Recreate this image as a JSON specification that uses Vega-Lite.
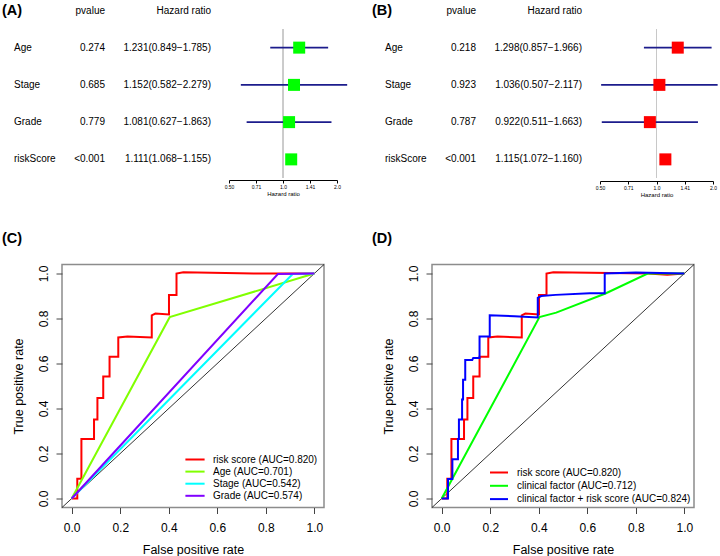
{
  "$schema": "https://vega.github.io/schema/vega-lite/v6.json",
  "padding": {"left": 2, "top": 2, "right": 2, "bottom": 2},
  "config": {
    "view": {"stroke": null},
    "font": "Liberation Sans",
    "title": {"font": "Liberation Sans", "color": "black"},
    "text": {"font": "Liberation Sans", "color": "black"}
  },
  "datasets": {
    "forestA": [
      {"variable": "Age", "pvalue": "0.274", "hrText": "1.231(0.849\u22121.785)", "hr": 1.231, "lower": 0.849, "upper": 1.785},
      {"variable": "Stage", "pvalue": "0.685", "hrText": "1.152(0.582\u22122.279)", "hr": 1.152, "lower": 0.582, "upper": 2.279},
      {"variable": "Grade", "pvalue": "0.779", "hrText": "1.081(0.627\u22121.863)", "hr": 1.081, "lower": 0.627, "upper": 1.863},
      {"variable": "riskScore", "pvalue": "<0.001", "hrText": "1.111(1.068\u22121.155)", "hr": 1.111, "lower": 1.068, "upper": 1.155}
    ],
    "forestB": [
      {"variable": "Age", "pvalue": "0.218", "hrText": "1.298(0.857\u22121.966)", "hr": 1.298, "lower": 0.857, "upper": 1.966},
      {"variable": "Stage", "pvalue": "0.923", "hrText": "1.036(0.507\u22122.117)", "hr": 1.036, "lower": 0.507, "upper": 2.117},
      {"variable": "Grade", "pvalue": "0.787", "hrText": "0.922(0.511\u22121.663)", "hr": 0.922, "lower": 0.511, "upper": 1.663},
      {"variable": "riskScore", "pvalue": "<0.001", "hrText": "1.115(1.072\u22121.160)", "hr": 1.115, "lower": 1.072, "upper": 1.16}
    ],
    "diag": [
      {"x": -0.04, "y": -0.04},
      {"x": 1.04, "y": 1.04}
    ],
    "rocC": [
      {"curve": "risk score (AUC=0.820)", "i": 0, "fpr": 0, "tpr": 0},
      {"curve": "risk score (AUC=0.820)", "i": 1, "fpr": 0.023, "tpr": 0},
      {"curve": "risk score (AUC=0.820)", "i": 2, "fpr": 0.023, "tpr": 0.088},
      {"curve": "risk score (AUC=0.820)", "i": 3, "fpr": 0.04, "tpr": 0.088},
      {"curve": "risk score (AUC=0.820)", "i": 4, "fpr": 0.04, "tpr": 0.265},
      {"curve": "risk score (AUC=0.820)", "i": 5, "fpr": 0.092, "tpr": 0.265},
      {"curve": "risk score (AUC=0.820)", "i": 6, "fpr": 0.092, "tpr": 0.351},
      {"curve": "risk score (AUC=0.820)", "i": 7, "fpr": 0.106, "tpr": 0.351},
      {"curve": "risk score (AUC=0.820)", "i": 8, "fpr": 0.106, "tpr": 0.447},
      {"curve": "risk score (AUC=0.820)", "i": 9, "fpr": 0.13, "tpr": 0.447},
      {"curve": "risk score (AUC=0.820)", "i": 10, "fpr": 0.13, "tpr": 0.542},
      {"curve": "risk score (AUC=0.820)", "i": 11, "fpr": 0.156, "tpr": 0.542},
      {"curve": "risk score (AUC=0.820)", "i": 12, "fpr": 0.156, "tpr": 0.63},
      {"curve": "risk score (AUC=0.820)", "i": 13, "fpr": 0.192, "tpr": 0.63},
      {"curve": "risk score (AUC=0.820)", "i": 14, "fpr": 0.192, "tpr": 0.716},
      {"curve": "risk score (AUC=0.820)", "i": 15, "fpr": 0.23, "tpr": 0.72},
      {"curve": "risk score (AUC=0.820)", "i": 16, "fpr": 0.33, "tpr": 0.716},
      {"curve": "risk score (AUC=0.820)", "i": 17, "fpr": 0.33, "tpr": 0.814},
      {"curve": "risk score (AUC=0.820)", "i": 18, "fpr": 0.345, "tpr": 0.822},
      {"curve": "risk score (AUC=0.820)", "i": 19, "fpr": 0.401, "tpr": 0.818},
      {"curve": "risk score (AUC=0.820)", "i": 20, "fpr": 0.401, "tpr": 0.905},
      {"curve": "risk score (AUC=0.820)", "i": 21, "fpr": 0.432, "tpr": 0.905},
      {"curve": "risk score (AUC=0.820)", "i": 22, "fpr": 0.432, "tpr": 1.0},
      {"curve": "risk score (AUC=0.820)", "i": 23, "fpr": 0.46, "tpr": 1.006},
      {"curve": "risk score (AUC=0.820)", "i": 24, "fpr": 0.75, "tpr": 1.0},
      {"curve": "risk score (AUC=0.820)", "i": 25, "fpr": 1.0, "tpr": 1.0},
      {"curve": "Age (AUC=0.701)", "i": 0, "fpr": 0, "tpr": 0},
      {"curve": "Age (AUC=0.701)", "i": 1, "fpr": 0.404, "tpr": 0.806},
      {"curve": "Age (AUC=0.701)", "i": 2, "fpr": 1.0, "tpr": 1.0},
      {"curve": "Stage (AUC=0.542)", "i": 0, "fpr": 0, "tpr": 0},
      {"curve": "Stage (AUC=0.542)", "i": 1, "fpr": 0.911, "tpr": 0.998},
      {"curve": "Stage (AUC=0.542)", "i": 2, "fpr": 1.0, "tpr": 1.0},
      {"curve": "Grade (AUC=0.574)", "i": 0, "fpr": 0, "tpr": 0},
      {"curve": "Grade (AUC=0.574)", "i": 1, "fpr": 0.85, "tpr": 0.998},
      {"curve": "Grade (AUC=0.574)", "i": 2, "fpr": 1.0, "tpr": 1.0}
    ],
    "rocD": [
      {"curve": "risk score (AUC=0.820)", "i": 0, "fpr": 0, "tpr": 0},
      {"curve": "risk score (AUC=0.820)", "i": 1, "fpr": 0.023, "tpr": 0},
      {"curve": "risk score (AUC=0.820)", "i": 2, "fpr": 0.023, "tpr": 0.088},
      {"curve": "risk score (AUC=0.820)", "i": 3, "fpr": 0.04, "tpr": 0.088},
      {"curve": "risk score (AUC=0.820)", "i": 4, "fpr": 0.04, "tpr": 0.265},
      {"curve": "risk score (AUC=0.820)", "i": 5, "fpr": 0.092, "tpr": 0.265},
      {"curve": "risk score (AUC=0.820)", "i": 6, "fpr": 0.092, "tpr": 0.351},
      {"curve": "risk score (AUC=0.820)", "i": 7, "fpr": 0.106, "tpr": 0.351},
      {"curve": "risk score (AUC=0.820)", "i": 8, "fpr": 0.106, "tpr": 0.447},
      {"curve": "risk score (AUC=0.820)", "i": 9, "fpr": 0.13, "tpr": 0.447},
      {"curve": "risk score (AUC=0.820)", "i": 10, "fpr": 0.13, "tpr": 0.542},
      {"curve": "risk score (AUC=0.820)", "i": 11, "fpr": 0.156, "tpr": 0.542},
      {"curve": "risk score (AUC=0.820)", "i": 12, "fpr": 0.156, "tpr": 0.63},
      {"curve": "risk score (AUC=0.820)", "i": 13, "fpr": 0.192, "tpr": 0.63},
      {"curve": "risk score (AUC=0.820)", "i": 14, "fpr": 0.192, "tpr": 0.716},
      {"curve": "risk score (AUC=0.820)", "i": 15, "fpr": 0.23, "tpr": 0.72},
      {"curve": "risk score (AUC=0.820)", "i": 16, "fpr": 0.33, "tpr": 0.716},
      {"curve": "risk score (AUC=0.820)", "i": 17, "fpr": 0.33, "tpr": 0.814},
      {"curve": "risk score (AUC=0.820)", "i": 18, "fpr": 0.345, "tpr": 0.822},
      {"curve": "risk score (AUC=0.820)", "i": 19, "fpr": 0.401, "tpr": 0.818},
      {"curve": "risk score (AUC=0.820)", "i": 20, "fpr": 0.401, "tpr": 0.905},
      {"curve": "risk score (AUC=0.820)", "i": 21, "fpr": 0.432, "tpr": 0.905},
      {"curve": "risk score (AUC=0.820)", "i": 22, "fpr": 0.432, "tpr": 1.0},
      {"curve": "risk score (AUC=0.820)", "i": 23, "fpr": 0.46, "tpr": 1.006},
      {"curve": "risk score (AUC=0.820)", "i": 24, "fpr": 0.85, "tpr": 1.0},
      {"curve": "risk score (AUC=0.820)", "i": 25, "fpr": 0.93, "tpr": 0.995},
      {"curve": "risk score (AUC=0.820)", "i": 26, "fpr": 1.0, "tpr": 1.0},
      {"curve": "clinical factor (AUC=0.712)", "i": 0, "fpr": 0, "tpr": 0},
      {"curve": "clinical factor (AUC=0.712)", "i": 1, "fpr": 0.403, "tpr": 0.806},
      {"curve": "clinical factor (AUC=0.712)", "i": 2, "fpr": 0.472, "tpr": 0.826},
      {"curve": "clinical factor (AUC=0.712)", "i": 3, "fpr": 0.675, "tpr": 0.911},
      {"curve": "clinical factor (AUC=0.712)", "i": 4, "fpr": 0.849, "tpr": 1.0},
      {"curve": "clinical factor (AUC=0.712)", "i": 5, "fpr": 1.0, "tpr": 1.0},
      {"curve": "clinical factor + risk score (AUC=0.824)", "i": 0, "fpr": 0, "tpr": 0},
      {"curve": "clinical factor + risk score (AUC=0.824)", "i": 1, "fpr": 0.026, "tpr": 0},
      {"curve": "clinical factor + risk score (AUC=0.824)", "i": 2, "fpr": 0.026, "tpr": 0.087},
      {"curve": "clinical factor + risk score (AUC=0.824)", "i": 3, "fpr": 0.044, "tpr": 0.087},
      {"curve": "clinical factor + risk score (AUC=0.824)", "i": 4, "fpr": 0.044, "tpr": 0.175},
      {"curve": "clinical factor + risk score (AUC=0.824)", "i": 5, "fpr": 0.067, "tpr": 0.175},
      {"curve": "clinical factor + risk score (AUC=0.824)", "i": 6, "fpr": 0.067, "tpr": 0.264},
      {"curve": "clinical factor + risk score (AUC=0.824)", "i": 7, "fpr": 0.071, "tpr": 0.264},
      {"curve": "clinical factor + risk score (AUC=0.824)", "i": 8, "fpr": 0.071, "tpr": 0.351},
      {"curve": "clinical factor + risk score (AUC=0.824)", "i": 9, "fpr": 0.084, "tpr": 0.351},
      {"curve": "clinical factor + risk score (AUC=0.824)", "i": 10, "fpr": 0.084, "tpr": 0.44},
      {"curve": "clinical factor + risk score (AUC=0.824)", "i": 11, "fpr": 0.088, "tpr": 0.44},
      {"curve": "clinical factor + risk score (AUC=0.824)", "i": 12, "fpr": 0.088, "tpr": 0.528},
      {"curve": "clinical factor + risk score (AUC=0.824)", "i": 13, "fpr": 0.097, "tpr": 0.528},
      {"curve": "clinical factor + risk score (AUC=0.824)", "i": 14, "fpr": 0.097, "tpr": 0.616},
      {"curve": "clinical factor + risk score (AUC=0.824)", "i": 15, "fpr": 0.126, "tpr": 0.616},
      {"curve": "clinical factor + risk score (AUC=0.824)", "i": 16, "fpr": 0.13, "tpr": 0.625},
      {"curve": "clinical factor + risk score (AUC=0.824)", "i": 17, "fpr": 0.156, "tpr": 0.625},
      {"curve": "clinical factor + risk score (AUC=0.824)", "i": 18, "fpr": 0.156, "tpr": 0.72},
      {"curve": "clinical factor + risk score (AUC=0.824)", "i": 19, "fpr": 0.198, "tpr": 0.72},
      {"curve": "clinical factor + risk score (AUC=0.824)", "i": 20, "fpr": 0.198, "tpr": 0.814},
      {"curve": "clinical factor + risk score (AUC=0.824)", "i": 21, "fpr": 0.3, "tpr": 0.81},
      {"curve": "clinical factor + risk score (AUC=0.824)", "i": 22, "fpr": 0.396, "tpr": 0.805},
      {"curve": "clinical factor + risk score (AUC=0.824)", "i": 23, "fpr": 0.396, "tpr": 0.892},
      {"curve": "clinical factor + risk score (AUC=0.824)", "i": 24, "fpr": 0.41, "tpr": 0.9},
      {"curve": "clinical factor + risk score (AUC=0.824)", "i": 25, "fpr": 0.47, "tpr": 0.905},
      {"curve": "clinical factor + risk score (AUC=0.824)", "i": 26, "fpr": 0.61, "tpr": 0.912},
      {"curve": "clinical factor + risk score (AUC=0.824)", "i": 27, "fpr": 0.672, "tpr": 0.912},
      {"curve": "clinical factor + risk score (AUC=0.824)", "i": 28, "fpr": 0.672, "tpr": 1.0},
      {"curve": "clinical factor + risk score (AUC=0.824)", "i": 29, "fpr": 0.8, "tpr": 1.004},
      {"curve": "clinical factor + risk score (AUC=0.824)", "i": 30, "fpr": 1.0, "tpr": 1.0}
    ]
  },
  "spacing": 33.5,
  "resolve": {"scale": {"color": "independent"}, "legend": {"color": "independent"}},
  "vconcat": [
    {
      "bounds": "flush",
      "spacing": 0,
      "hconcat": [
        {
          "width": 56, "height": 149,
          "data": {"name": "forestA"},
          "title": {"text": "(A)", "anchor": "start", "frame": "group", "fontSize": 14.5, "fontWeight": "bold", "offset": 11},
          "mark": {"type": "text", "align": "left", "baseline": "middle", "fontSize": 10, "dx": 12},
          "encoding": {
            "x": {"value": 0},
            "y": {"field": "variable", "type": "nominal", "scale": {"type": "point", "domain": ["Age", "Stage", "Grade", "riskScore"], "padding": 0.5}, "axis": null},
            "text": {"field": "variable"}
          }
        },
        {
          "width": 47, "height": 149,
          "data": {"name": "forestA"},
          "title": {"text": "pvalue", "anchor": "end", "frame": "group", "fontSize": 10, "fontWeight": "normal", "offset": 13},
          "mark": {"type": "text", "align": "right", "baseline": "middle", "fontSize": 10},
          "encoding": {
            "x": {"value": "width"},
            "y": {"field": "variable", "type": "nominal", "scale": {"type": "point", "domain": ["Age", "Stage", "Grade", "riskScore"], "padding": 0.5}, "axis": null},
            "text": {"field": "pvalue"}
          }
        },
        {
          "width": 124, "height": 149,
          "data": {"name": "forestA"},
          "title": {"text": "Hazard ratio", "anchor": "end", "frame": "group", "fontSize": 10, "fontWeight": "normal", "offset": 13, "dx": -18},
          "mark": {"type": "text", "align": "right", "baseline": "middle", "fontSize": 10, "dx": -18},
          "encoding": {
            "x": {"value": "width"},
            "y": {"field": "variable", "type": "nominal", "scale": {"type": "point", "domain": ["Age", "Stage", "Grade", "riskScore"], "padding": 0.5}, "axis": null},
            "text": {"field": "hrText"}
          }
        },
        {
          "width": 108, "height": 149,
          "data": {"name": "forestA"},
          "layer": [
            {
              "mark": {"type": "rule", "color": "#c8c8c8", "strokeWidth": 1},
              "encoding": {
                "x": {"datum": 1, "type": "quantitative", "scale": {"type": "log", "domain": [0.5, 2], "nice": false},
                  "axis": {"title": "Hazard ratio", "values": [0.5, 0.7071, 1, 1.4142, 2], "labelExpr": "datum.value < 0.6 ? '0.50' : datum.value < 0.8 ? '0.71' : datum.value < 1.2 ? '1.0' : datum.value < 1.7 ? '1.41' : '2.0'", "labelFontSize": 5, "titleFontSize": 6, "titleFontWeight": "normal", "tickSize": 3, "labelPadding": 1, "titlePadding": 1, "domainColor": "black", "tickColor": "black", "labelColor": "black", "titleColor": "black", "grid": false, "offset": 2, "labelFlush": false, "labelOverlap": false}}
              }
            },
            {
              "mark": {"type": "rule", "color": "#1c1c8c", "strokeWidth": 1.6},
              "encoding": {
                "x": {"field": "lower", "type": "quantitative", "scale": {"type": "log", "domain": [0.5, 2], "nice": false},
                  "axis": {"title": "Hazard ratio", "values": [0.5, 0.7071, 1, 1.4142, 2], "labelExpr": "datum.value < 0.6 ? '0.50' : datum.value < 0.8 ? '0.71' : datum.value < 1.2 ? '1.0' : datum.value < 1.7 ? '1.41' : '2.0'", "labelFontSize": 5, "titleFontSize": 6, "titleFontWeight": "normal", "tickSize": 3, "labelPadding": 1, "titlePadding": 1, "domainColor": "black", "tickColor": "black", "labelColor": "black", "titleColor": "black", "grid": false, "offset": 2, "labelFlush": false, "labelOverlap": false}},
                "x2": {"field": "upper"},
                "y": {"field": "variable", "type": "nominal", "scale": {"type": "point", "domain": ["Age", "Stage", "Grade", "riskScore"], "padding": 0.5}, "axis": null}
              }
            },
            {
              "mark": {"type": "point", "shape": "square", "filled": true, "size": 144, "color": "#00ff00", "opacity": 1},
              "encoding": {
                "x": {"field": "hr", "type": "quantitative", "scale": {"type": "log", "domain": [0.5, 2], "nice": false},
                  "axis": {"title": "Hazard ratio", "values": [0.5, 0.7071, 1, 1.4142, 2], "labelExpr": "datum.value < 0.6 ? '0.50' : datum.value < 0.8 ? '0.71' : datum.value < 1.2 ? '1.0' : datum.value < 1.7 ? '1.41' : '2.0'", "labelFontSize": 5, "titleFontSize": 6, "titleFontWeight": "normal", "tickSize": 3, "labelPadding": 1, "titlePadding": 1, "domainColor": "black", "tickColor": "black", "labelColor": "black", "titleColor": "black", "grid": false, "offset": 2, "labelFlush": false, "labelOverlap": false}},
                "y": {"field": "variable", "type": "nominal", "scale": {"type": "point", "domain": ["Age", "Stage", "Grade", "riskScore"], "padding": 0.5}, "axis": null}
              }
            }
          ]
        },
        {
          "width": 93, "height": 149,
          "data": {"name": "forestB"},
          "title": {"text": "(B)", "anchor": "start", "frame": "group", "fontSize": 14.5, "fontWeight": "bold", "offset": 11, "dx": 35},
          "mark": {"type": "text", "align": "left", "baseline": "middle", "fontSize": 10, "dx": 48},
          "encoding": {
            "x": {"value": 0},
            "y": {"field": "variable", "type": "nominal", "scale": {"type": "point", "domain": ["Age", "Stage", "Grade", "riskScore"], "padding": 0.5}, "axis": null},
            "text": {"field": "variable"}
          }
        },
        {
          "width": 46, "height": 149,
          "data": {"name": "forestB"},
          "title": {"text": "pvalue", "anchor": "end", "frame": "group", "fontSize": 10, "fontWeight": "normal", "offset": 13},
          "mark": {"type": "text", "align": "right", "baseline": "middle", "fontSize": 10},
          "encoding": {
            "x": {"value": "width"},
            "y": {"field": "variable", "type": "nominal", "scale": {"type": "point", "domain": ["Age", "Stage", "Grade", "riskScore"], "padding": 0.5}, "axis": null},
            "text": {"field": "pvalue"}
          }
        },
        {
          "width": 124, "height": 149,
          "data": {"name": "forestB"},
          "title": {"text": "Hazard ratio", "anchor": "end", "frame": "group", "fontSize": 10, "fontWeight": "normal", "offset": 13, "dx": -18},
          "mark": {"type": "text", "align": "right", "baseline": "middle", "fontSize": 10, "dx": -18},
          "encoding": {
            "x": {"value": "width"},
            "y": {"field": "variable", "type": "nominal", "scale": {"type": "point", "domain": ["Age", "Stage", "Grade", "riskScore"], "padding": 0.5}, "axis": null},
            "text": {"field": "hrText"}
          }
        },
        {
          "width": 113, "height": 149,
          "data": {"name": "forestB"},
          "layer": [
            {
              "mark": {"type": "rule", "color": "#c8c8c8", "strokeWidth": 1},
              "encoding": {
                "x": {"datum": 1, "type": "quantitative", "scale": {"type": "log", "domain": [0.5, 2], "nice": false},
                  "axis": {"title": "Hazard ratio", "values": [0.5, 0.7071, 1, 1.4142, 2], "labelExpr": "datum.value < 0.6 ? '0.50' : datum.value < 0.8 ? '0.71' : datum.value < 1.2 ? '1.0' : datum.value < 1.7 ? '1.41' : '2.0'", "labelFontSize": 5, "titleFontSize": 6, "titleFontWeight": "normal", "tickSize": 3, "labelPadding": 1, "titlePadding": 1, "domainColor": "black", "tickColor": "black", "labelColor": "black", "titleColor": "black", "grid": false, "offset": 3, "labelFlush": false, "labelOverlap": false}}
              }
            },
            {
              "mark": {"type": "rule", "color": "#1c1c8c", "strokeWidth": 1.6},
              "encoding": {
                "x": {"field": "lower", "type": "quantitative", "scale": {"type": "log", "domain": [0.5, 2], "nice": false},
                  "axis": {"title": "Hazard ratio", "values": [0.5, 0.7071, 1, 1.4142, 2], "labelExpr": "datum.value < 0.6 ? '0.50' : datum.value < 0.8 ? '0.71' : datum.value < 1.2 ? '1.0' : datum.value < 1.7 ? '1.41' : '2.0'", "labelFontSize": 5, "titleFontSize": 6, "titleFontWeight": "normal", "tickSize": 3, "labelPadding": 1, "titlePadding": 1, "domainColor": "black", "tickColor": "black", "labelColor": "black", "titleColor": "black", "grid": false, "offset": 3, "labelFlush": false, "labelOverlap": false}},
                "x2": {"field": "upper"},
                "y": {"field": "variable", "type": "nominal", "scale": {"type": "point", "domain": ["Age", "Stage", "Grade", "riskScore"], "padding": 0.5}, "axis": null}
              }
            },
            {
              "mark": {"type": "point", "shape": "square", "filled": true, "size": 144, "color": "#ff0000", "opacity": 1},
              "encoding": {
                "x": {"field": "hr", "type": "quantitative", "scale": {"type": "log", "domain": [0.5, 2], "nice": false},
                  "axis": {"title": "Hazard ratio", "values": [0.5, 0.7071, 1, 1.4142, 2], "labelExpr": "datum.value < 0.6 ? '0.50' : datum.value < 0.8 ? '0.71' : datum.value < 1.2 ? '1.0' : datum.value < 1.7 ? '1.41' : '2.0'", "labelFontSize": 5, "titleFontSize": 6, "titleFontWeight": "normal", "tickSize": 3, "labelPadding": 1, "titlePadding": 1, "domainColor": "black", "tickColor": "black", "labelColor": "black", "titleColor": "black", "grid": false, "offset": 3, "labelFlush": false, "labelOverlap": false}},
                "y": {"field": "variable", "type": "nominal", "scale": {"type": "point", "domain": ["Age", "Stage", "Grade", "riskScore"], "padding": 0.5}, "axis": null}
              }
            }
          ]
        }
      ]
    },
    {
      "bounds": "flush",
      "spacing": 0,
      "resolve": {"scale": {"color": "independent"}, "legend": {"color": "independent"}},
      "hconcat": [
        {
          "width": 60, "height": 243,
          "data": {"values": []},
          "title": {"text": "(C)", "anchor": "start", "frame": "group", "fontSize": 14.5, "fontWeight": "bold", "offset": 18},
          "mark": "point"
        },
        {
          "width": 262, "height": 243,
          "view": {"stroke": "#8c8c8c", "strokeWidth": 1.5},
          "layer": [
            {
              "data": {"name": "diag"},
              "mark": {"type": "line", "color": "black", "strokeWidth": 0.8},
              "encoding": {
                "x": {"field": "x", "type": "quantitative", "scale": {"domain": [-0.04, 1.04], "nice": false, "zero": false},
                  "axis": {"title": "False positive rate", "values": [0, 0.2, 0.4, 0.6, 0.8, 1], "format": ".1f", "domain": false, "grid": false, "tickSize": 6, "tickColor": "#444", "labelFontSize": 12, "labelColor": "black", "labelPadding": 8.5, "titleFontSize": 12.5, "titleFontWeight": "normal", "titleColor": "black", "titlePadding": 10, "labelFlush": false}},
                "y": {"field": "y", "type": "quantitative", "scale": {"domain": [-0.04, 1.04], "nice": false, "zero": false},
                  "axis": {"title": "True positive rate", "values": [0, 0.2, 0.4, 0.6, 0.8, 1], "format": ".1f", "domain": false, "grid": false, "tickSize": 6, "tickColor": "#444", "labelFontSize": 12, "labelColor": "black", "labelPadding": 6, "labelAngle": -90, "titleFontSize": 12.5, "titleFontWeight": "normal", "titleColor": "black", "titlePadding": 12, "labelFlush": false}}
              }
            },
            {
              "data": {"name": "rocC"},
              "mark": {"type": "line", "strokeWidth": 2},
              "encoding": {
                "x": {"field": "fpr", "type": "quantitative", "scale": {"domain": [-0.04, 1.04], "nice": false, "zero": false},
                  "axis": {"title": "False positive rate", "values": [0, 0.2, 0.4, 0.6, 0.8, 1], "format": ".1f", "domain": false, "grid": false, "tickSize": 6, "tickColor": "#444", "labelFontSize": 12, "labelColor": "black", "labelPadding": 8.5, "titleFontSize": 12.5, "titleFontWeight": "normal", "titleColor": "black", "titlePadding": 10, "labelFlush": false}},
                "y": {"field": "tpr", "type": "quantitative", "scale": {"domain": [-0.04, 1.04], "nice": false, "zero": false},
                  "axis": {"title": "True positive rate", "values": [0, 0.2, 0.4, 0.6, 0.8, 1], "format": ".1f", "domain": false, "grid": false, "tickSize": 6, "tickColor": "#444", "labelFontSize": 12, "labelColor": "black", "labelPadding": 6, "labelAngle": -90, "titleFontSize": 12.5, "titleFontWeight": "normal", "titleColor": "black", "titlePadding": 12, "labelFlush": false}},
                "color": {"field": "curve", "type": "nominal",
                  "scale": {"domain": ["risk score (AUC=0.820)", "Age (AUC=0.701)", "Stage (AUC=0.542)", "Grade (AUC=0.574)"], "range": ["#ff0000", "#80ff00", "#00ffff", "#8000ff"]},
                  "legend": {"title": null, "orient": "bottom-right", "offset": 6, "padding": 0, "labelFontSize": 10, "labelFont": "Liberation Sans", "labelColor": "black", "labelLimit": 300, "labelOffset": 13, "symbolType": "M-3.2,0H3.2", "symbolSize": 36, "symbolStrokeWidth": 2, "rowPadding": 2.1}},
                "order": {"field": "i", "type": "quantitative"}
              }
            }
          ]
        },
        {
          "width": 108, "height": 243,
          "data": {"values": []},
          "title": {"text": "(D)", "anchor": "start", "frame": "group", "fontSize": 14.5, "fontWeight": "bold", "offset": 18, "dx": 48},
          "mark": "point"
        },
        {
          "width": 262, "height": 243,
          "view": {"stroke": "#8c8c8c", "strokeWidth": 1.5},
          "layer": [
            {
              "data": {"name": "diag"},
              "mark": {"type": "line", "color": "black", "strokeWidth": 0.8},
              "encoding": {
                "x": {"field": "x", "type": "quantitative", "scale": {"domain": [-0.04, 1.04], "nice": false, "zero": false},
                  "axis": {"title": "False positive rate", "values": [0, 0.2, 0.4, 0.6, 0.8, 1], "format": ".1f", "domain": false, "grid": false, "tickSize": 6, "tickColor": "#444", "labelFontSize": 12, "labelColor": "black", "labelPadding": 8.5, "titleFontSize": 12.5, "titleFontWeight": "normal", "titleColor": "black", "titlePadding": 10, "labelFlush": false}},
                "y": {"field": "y", "type": "quantitative", "scale": {"domain": [-0.04, 1.04], "nice": false, "zero": false},
                  "axis": {"title": "True positive rate", "values": [0, 0.2, 0.4, 0.6, 0.8, 1], "format": ".1f", "domain": false, "grid": false, "tickSize": 6, "tickColor": "#444", "labelFontSize": 12, "labelColor": "black", "labelPadding": 6, "labelAngle": -90, "titleFontSize": 12.5, "titleFontWeight": "normal", "titleColor": "black", "titlePadding": 12, "labelFlush": false}}
              }
            },
            {
              "data": {"name": "rocD"},
              "mark": {"type": "line", "strokeWidth": 2},
              "encoding": {
                "x": {"field": "fpr", "type": "quantitative", "scale": {"domain": [-0.04, 1.04], "nice": false, "zero": false},
                  "axis": {"title": "False positive rate", "values": [0, 0.2, 0.4, 0.6, 0.8, 1], "format": ".1f", "domain": false, "grid": false, "tickSize": 6, "tickColor": "#444", "labelFontSize": 12, "labelColor": "black", "labelPadding": 8.5, "titleFontSize": 12.5, "titleFontWeight": "normal", "titleColor": "black", "titlePadding": 10, "labelFlush": false}},
                "y": {"field": "tpr", "type": "quantitative", "scale": {"domain": [-0.04, 1.04], "nice": false, "zero": false},
                  "axis": {"title": "True positive rate", "values": [0, 0.2, 0.4, 0.6, 0.8, 1], "format": ".1f", "domain": false, "grid": false, "tickSize": 6, "tickColor": "#444", "labelFontSize": 12, "labelColor": "black", "labelPadding": 6, "labelAngle": -90, "titleFontSize": 12.5, "titleFontWeight": "normal", "titleColor": "black", "titlePadding": 12, "labelFlush": false}},
                "color": {"field": "curve", "type": "nominal",
                  "scale": {"domain": ["risk score (AUC=0.820)", "clinical factor (AUC=0.712)", "clinical factor + risk score (AUC=0.824)"], "range": ["#ff0000", "#00ff00", "#0000ff"]},
                  "legend": {"title": null, "orient": "bottom-right", "offset": 3, "padding": 0, "labelFontSize": 10, "labelFont": "Liberation Sans", "labelColor": "black", "labelLimit": 300, "labelOffset": 13, "symbolType": "M-3,0H3", "symbolSize": 36, "symbolStrokeWidth": 2, "rowPadding": 3.3}},
                "order": {"field": "i", "type": "quantitative"}
              }
            }
          ]
        }
      ]
    }
  ]
}
